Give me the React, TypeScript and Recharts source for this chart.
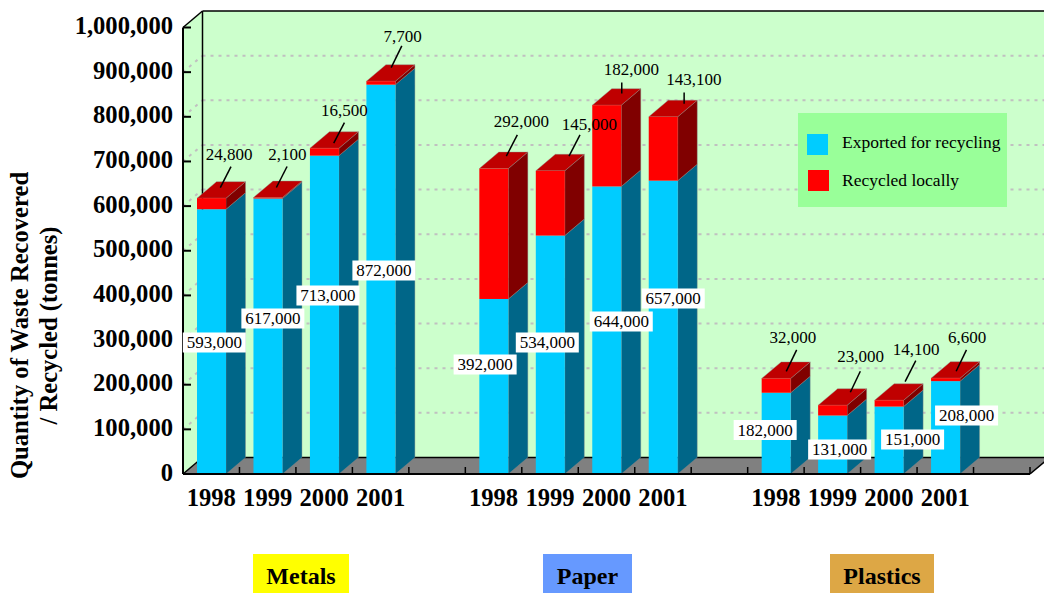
import { Bar, BarChart, Customized, LabelList, Legend, XAxis, YAxis } from "recharts";

const YEARS = ["1998", "1999", "2000", "2001", "", "1998", "1999", "2000", "2001", "", "1998", "1999", "2000", "2001", ""];
const EXPORTED = [593000, 617000, 713000, 872000, null, 392000, 534000, 644000, 657000, null, 182000, 131000, 151000, 208000, null];
const RECYCLED = [24800, 2100, 16500, 7700, null, 292000, 145000, 182000, 143100, null, 32000, 23000, 14100, 6600, null];
const Y_TICKS = [0, 100000, 200000, 300000, 400000, 500000, 600000, 700000, 800000, 900000, 1000000];
const GRID_STEPS = [1, 2, 3, 4, 5, 6, 7, 8, 9];
const GROUPS = ["Metals", "Paper", "Plastics"];

const WIDTH = 1044;
const HEIGHT = 593;
const LEFT = 183;
const RIGHT = 1030;
const TOP = 27.5;
const BOTTOM = 474;
const DEPTH_X = 19.5;
const DEPTH_Y = 16.5;
const SLOT = (RIGHT - LEFT) / YEARS.length;
const FONT = "'Liberation Serif', 'Times New Roman', serif";

// label placement, relative to the bar centre and bar base / stack top
const EXPORTED_LABEL_POS: Record<number, [number, number]> = {
  0: [2.8, -131.5], 1: [4.9, -155.5], 2: [3.5, -178.5], 3: [3, -203.5],
  5: [-8.7, -109.5], 6: [-3, -131.5], 7: [14.5, -152.5], 8: [10, -175.5],
  10: [-11, -44], 11: [7, -24.5], 12: [23.5, -34.5], 13: [21, -58.5],
};
// text dx, dy, leader start dx, dy, leader end dx, dy
const RECYCLED_LABEL_POS: Record<number, number[]> = {
  0: [17.5, -43.3, 19.5, -31.6, 8.8, -10.6],
  1: [19.4, -42.8, 19.1, -31.1, 8.4, -10.1],
  2: [20, -37.4, 20, -25.7, 9.3, -5.1],
  3: [21.6, -44.3, 20.9, -35.3, 10.3, -13.6],
  5: [27.5, -47, 23.5, -33.7, 12.5, -12.4],
  6: [39.1, -46.7, 29.7, -36, 18.7, -14.7],
  7: [24.7, -36, 15, -22.6, 15, -11.6],
  8: [30.6, -36.9, 20.9, -24.2, 20.9, -12.9],
  10: [16.8, -40.8, 20.5, -28.5, 10.1, -7.1],
  11: [28.1, -49, 27.7, -34, 17.7, -13],
  12: [27, -50.7, 26.7, -39.7, 16, -18.7],
  13: [21.6, -40.6, 20.9, -28.3, 10.6, -6.9],
};
const GROUP_BOXES = [
  { x: 253, width: 96, fill: "#ffff00" },
  { x: 543, width: 89, fill: "#6699ff" },
  { x: 830, width: 104, fill: "#dda745" },
];

const chartData = YEARS.map((year, i) => ({ year, exported: EXPORTED[i], recycled: RECYCLED[i] }));

function fmt(value: number) {
  return value.toLocaleString("en-US");
}

function Box3D({ x, y, width, height, front, side, top }: any) {
  if (!height) return null;
  const r = x + width;
  return (
    <g>
      <polygon
        points={`${r},${y} ${r + DEPTH_X},${y - DEPTH_Y} ${r + DEPTH_X},${y + height - DEPTH_Y} ${r},${y + height}`}
        fill={side}
        stroke="#8a8a8a"
        strokeWidth={0.4}
      />
      {top && (
        <polygon
          points={`${x},${y} ${x + DEPTH_X},${y - DEPTH_Y} ${r + DEPTH_X},${y - DEPTH_Y} ${r},${y}`}
          fill={top}
          stroke="#8a8a8a"
          strokeWidth={0.4}
        />
      )}
      <rect x={x} y={y} width={width} height={height} fill={front} />
    </g>
  );
}

function Walls() {
  const right = RIGHT + DEPTH_X;
  const backTop = TOP - DEPTH_Y;
  const backBottom = BOTTOM - DEPTH_Y;
  const stepH = (BOTTOM - TOP) / 10;
  const backLeft = LEFT + DEPTH_X;
  return (
    <g>
      <rect x={backLeft} y={backTop} width={right - backLeft} height={backBottom - backTop} fill="#ccffcc" />
      <polygon points={`${LEFT},${TOP} ${backLeft},${backTop} ${backLeft},${backBottom} ${LEFT},${BOTTOM}`} fill="#ccffcc" />
      <polygon points={`${LEFT},${BOTTOM} ${backLeft},${backBottom} ${right},${backBottom} ${RIGHT},${BOTTOM}`} fill="#808080" />
      {GRID_STEPS.map((k) => (
        <g key={k} stroke="#c0c0c0" strokeWidth={2} strokeDasharray="3 5" fill="none">
          <line x1={backLeft} x2={right} y1={backBottom - k * stepH} y2={backBottom - k * stepH} />
          <line x1={LEFT} x2={backLeft} y1={BOTTOM - k * stepH} y2={backBottom - k * stepH} />
        </g>
      ))}
      <g stroke="#000" strokeWidth={1.5} fill="none">
        <line x1={LEFT} y1={TOP} x2={backLeft} y2={backTop} />
        <line x1={backLeft} y1={backTop} x2={right} y2={backTop} />
        <line x1={backLeft} y1={backTop} x2={backLeft} y2={backBottom} />
        <line x1={LEFT} y1={BOTTOM} x2={backLeft} y2={backBottom} />
        <line x1={backLeft} y1={backBottom} x2={right} y2={backBottom} />
        <line x1={RIGHT} y1={BOTTOM} x2={right} y2={backBottom} />
      </g>
    </g>
  );
}

function Annotations() {
  return (
    <g fontFamily={FONT} fontWeight="bold" fill="#000">
      <g transform="translate(28,325.5) rotate(-90)">
        <text textAnchor="middle" fontSize={24.6}>Quantity of Waste Recovered</text>
        <text y={29} textAnchor="middle" fontSize={24.6}>/ Recycled (tonnes)</text>
      </g>
      {GROUPS.map((name, i) => (
        <g key={name}>
          <rect x={GROUP_BOXES[i].x} y={554} width={GROUP_BOXES[i].width} height={39} fill={GROUP_BOXES[i].fill} />
          <text x={GROUP_BOXES[i].x + GROUP_BOXES[i].width / 2} y={584} textAnchor="middle" fontSize={24}>
            {name}
          </text>
        </g>
      ))}
    </g>
  );
}

function YTick({ y, payload }: any) {
  return (
    <g>
      <line x1={LEFT} x2={LEFT + 8} y1={y} y2={y} stroke="#000" strokeWidth={2} />
      <text x={173} y={y + 6.5} textAnchor="end" fontFamily={FONT} fontWeight="bold" fontSize={24.6} fill="#000">
        {fmt(payload.value)}
      </text>
    </g>
  );
}

function XTick({ x, payload }: any) {
  return (
    <g>
      <line x1={x + SLOT / 2} x2={x + SLOT / 2} y1={BOTTOM} y2={BOTTOM - 7} stroke="#000" strokeWidth={1.5} />
      <text x={x} y={506} textAnchor="middle" fontFamily={FONT} fontWeight="bold" fontSize={24.6} fill="#000">
        {payload.value}
      </text>
    </g>
  );
}

function ExportedLabel({ x, width, index, value }: any) {
  const pos = EXPORTED_LABEL_POS[index];
  if (value == null || !pos) return null;
  const cx = x + width / 2 + pos[0];
  const cy = BOTTOM + pos[1];
  return (
    <g>
      <rect x={cx - 31.5} y={cy - 10} width={63} height={20} fill="#fff" />
      <text x={cx} y={cy + 5.5} textAnchor="middle" fontFamily={FONT} fontSize={17} fill="#000">
        {fmt(value)}
      </text>
    </g>
  );
}

function RecycledLabel({ x, y, width, index, value }: any) {
  const pos = RECYCLED_LABEL_POS[index];
  if (value == null || !pos) return null;
  const c = x + width / 2;
  return (
    <g>
      <line x1={c + pos[2]} y1={y + pos[3]} x2={c + pos[4]} y2={y + pos[5]} stroke="#000" strokeWidth={1.5} />
      <text x={c + pos[0]} y={y + pos[1] + 5.5} textAnchor="middle" fontFamily={FONT} fontSize={17} fill="#000">
        {fmt(value)}
      </text>
    </g>
  );
}

function LegendBox({ payload }: any) {
  return (
    <div style={{ width: 209, height: 94, background: "#99ff99", position: "relative", fontFamily: FONT, fontSize: 17.5, color: "#000" }}>
      {(payload || []).map((entry: any, i: number) => (
        <div key={entry.value}>
          <div style={{ position: "absolute", left: 9 + i, top: 21 + i * 36, width: 21, height: 21, background: entry.color }} />
          <div style={{ position: "absolute", left: 44, top: 20 + i * 38, lineHeight: "18px", whiteSpace: "nowrap" }}>{entry.value}</div>
        </div>
      ))}
    </div>
  );
}

export default function App() {
  return (
    <div style={{ position: "absolute", left: 0, top: 0, width: WIDTH, height: HEIGHT, overflow: "hidden", background: "#fff" }}>
      <BarChart
        width={WIDTH}
        height={HEIGHT}
        data={chartData}
        margin={{ top: TOP, right: WIDTH - RIGHT, bottom: 0, left: 0 }}
        barSize={29}
      >
        <Customized component={Walls} />
        <Customized component={Annotations} />
        <XAxis
          dataKey="year"
          height={HEIGHT - BOTTOM}
          interval={0}
          axisLine={{ stroke: "#000", strokeWidth: 2 }}
          tickLine={false}
          tick={<XTick />}
        />
        <YAxis
          width={LEFT}
          domain={[0, 1000000]}
          ticks={Y_TICKS}
          interval={0}
          axisLine={{ stroke: "#000", strokeWidth: 2 }}
          tickLine={false}
          tick={<YTick />}
        />
        <Legend
          verticalAlign="middle"
          layout="horizontal"
          content={<LegendBox />}
          wrapperStyle={{ left: 798, top: 113, width: 209, height: 94, margin: 0 }}
        />
        <Bar
          dataKey="exported"
          name="Exported for recycling"
          stackId="waste"
          fill="#00ccff"
          isAnimationActive={false}
          shape={<Box3D front="#00ccff" side="#006688" />}
        >
          <LabelList dataKey="exported" content={<ExportedLabel />} />
        </Bar>
        <Bar
          dataKey="recycled"
          name="Recycled locally"
          stackId="waste"
          fill="#ff0000"
          isAnimationActive={false}
          shape={<Box3D front="#ff0000" side="#800000" top="#bf0000" />}
        >
          <LabelList dataKey="recycled" content={<RecycledLabel />} />
        </Bar>
      </BarChart>
    </div>
  );
}
